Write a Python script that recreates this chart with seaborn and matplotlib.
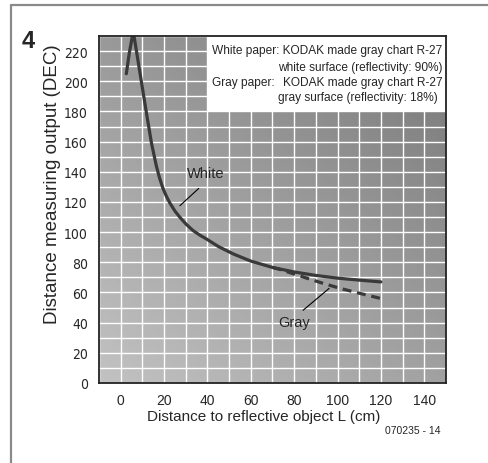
import numpy as np
import pandas as pd
import matplotlib
matplotlib.use("Agg")
import matplotlib.pyplot as plt
from matplotlib.lines import Line2D
from matplotlib.patches import Rectangle
import seaborn as sns

# curve values (distance in cm, output in DEC)
white_x = [2.6, 4, 5.8, 7.5, 9, 10.3, 12.1, 14.2, 16.5, 18, 19.5, 21, 22.6, 25, 27.2, 30,
           33.4, 36.5, 39.5, 45, 52, 60, 70, 80, 90, 100, 110, 120]
white_y = [205, 219, 233, 218, 204.6, 193, 177, 159, 143.5, 135.5, 129, 124, 119.5, 114, 110, 105.5,
           101, 98, 95.5, 90.5, 85.5, 80.8, 76.6, 73.6, 71.3, 69.5, 68.2, 67]
gray_x = [70, 75, 80, 86, 93, 101, 110, 120]
gray_y = [76.6, 74.6, 72.2, 69.4, 66.2, 62.8, 59.5, 56]

x_ticks = [0, 20, 40, 60, 80, 100, 120, 140]
y_ticks = [0, 20, 40, 60, 80, 100, 120, 140, 160, 180, 200, 220]

white = pd.DataFrame({"L": white_x, "DEC": white_y})
gray = pd.DataFrame({"L": gray_x, "DEC": gray_y})

sns.set_style("white")
plt.rcParams["font.family"] = ["Liberation Sans", "DejaVu Sans"]

fig = plt.figure(figsize=(4.89, 4.64), dpi=100)
ax = fig.add_axes([99 / 489, 80 / 464, 347 / 489, 347 / 464])

# gradient background, light bottom-left to dark top-right
u, v = np.meshgrid(np.linspace(0, 1, 200), np.linspace(0, 1, 200))
shade = 0.76 - 0.13 * u - 0.16 * v
ax.imshow(shade, cmap="gray", vmin=0, vmax=1, extent=(-10, 150, 0, 230),
          origin="lower", aspect="auto", zorder=0)

ax.set_xlim(-10, 150)
ax.set_ylim(0, 230)
ax.set_xticks(np.arange(-10, 151, 10), minor=True)
ax.set_yticks(np.arange(0, 231, 10), minor=True)
ax.set_xticks(x_ticks)
ax.set_yticks(y_ticks)
ax.set_axisbelow(True)
ax.grid(True, which="both", color="white", linewidth=1.0)
ax.tick_params(which="both", length=0)
ax.tick_params(axis="x", labelsize=10, pad=7)
ax.tick_params(axis="y", labelsize=10, pad=8)
ax.set_yticklabels([str(t) for t in y_ticks], fontsize=10,
                   family="DejaVu Sans", stretch="condensed")

ax.add_patch(Rectangle((40, 180), 110, 50, facecolor="white", edgecolor="none", zorder=2))

sns.lineplot(data=white, x="L", y="DEC", ax=ax, color="#3a3a3a", linewidth=2.3,
             sort=False, estimator=None, zorder=3)
sns.lineplot(data=gray, x="L", y="DEC", ax=ax, color="#3a3a3a", linewidth=2.3,
             sort=False, estimator=None, zorder=3)
ax.lines[-1].set_dashes([2.8, 1.8])

for s in ax.spines.values():
    s.set_visible(True)
    s.set_color("#222222")
    s.set_linewidth(1.3)
    s.set_zorder(5)

ax.set_xlabel("Distance to reflective object L (cm)", fontsize=11)
ax.set_ylabel("Distance measuring output (DEC)", fontsize=13.5)
ax.xaxis.set_label_coords(0.474, -0.075)
ax.yaxis.set_label_coords(-0.11, 0.575)

# curve labels with leader lines
ax.text(39.3, 139, "White", fontsize=10.5, ha="center", va="center", zorder=4)
ax.plot([36, 27.3], [129, 117.5], color="black", linewidth=0.8, zorder=4)
ax.text(79.8, 40.3, "Gray", fontsize=10.5, ha="center", va="center", zorder=4)
ax.plot([84.1, 96.1], [48.2, 62.7], color="black", linewidth=0.8, zorder=4)

# note box text
fs = 8.6
ax.text(42.3, 220.7, "White paper: KODAK made gray chart R-27", fontsize=fs, va="center", zorder=4)
ax.text(72.6, 209.5, "white surface (reflectivity: 90%)", fontsize=fs, va="center", zorder=4)
ax.text(42.3, 199.3, "Gray paper:", fontsize=fs, va="center", zorder=4)
ax.text(74.9, 199.3, "KODAK made gray chart R-27", fontsize=fs, va="center", zorder=4)
ax.text(72.6, 189.3, "gray surface (reflectivity: 18%)", fontsize=fs, va="center", zorder=4)

fig.text(22 / 489, 1 - 41 / 464, "4", fontsize=17, fontweight="bold", va="center")
fig.text(385 / 489, 1 - 431 / 464, "070235 - 14", fontsize=7.5, va="center")

# outer frame
fig.add_artist(Line2D([11 / 489, 1], [1 - 6 / 464, 1 - 6 / 464], color="#8a8a8a", linewidth=1.6))
fig.add_artist(Line2D([11 / 489, 11 / 489], [0, 1 - 6 / 464], color="#8a8a8a", linewidth=1.6))

fig.savefig("out.png", dpi=100)
